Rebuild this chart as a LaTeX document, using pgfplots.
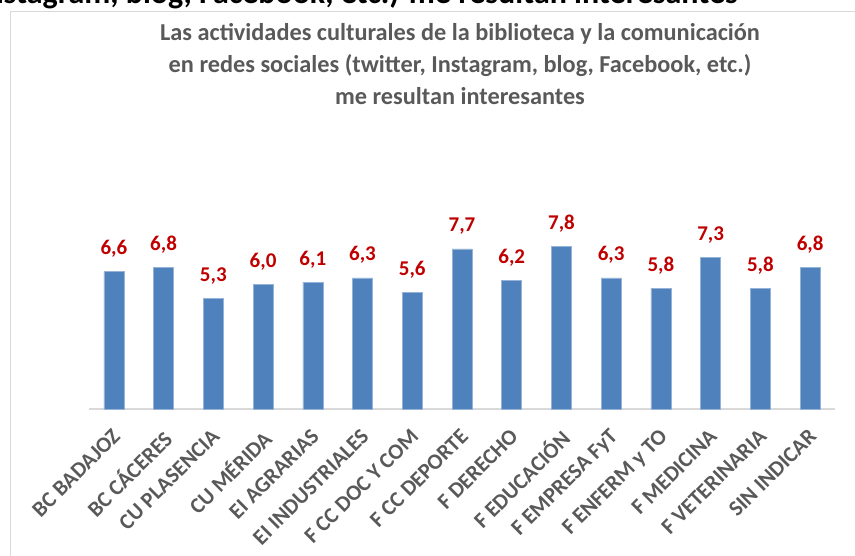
\documentclass[border=0pt]{standalone}
\usepackage{pgfplots}
\pgfplotsset{compat=1.18}
\usepackage{fontspec}
\setmainfont{Carlito}
\definecolor{barblue}{HTML}{4F81BD}
\definecolor{valred}{HTML}{C00000}
\definecolor{txtgrey}{HTML}{595959}
\definecolor{framegrey}{HTML}{D9D9D9}

\begin{document}
\begin{tikzpicture}
\useasboundingbox (0pt,0pt) rectangle (855pt,556pt);
% chart frame, cut off at right and bottom like the screenshot
\draw[framegrey, line width=1pt] (10pt,544pt) rectangle (880pt,-30pt);
% cropped heading above the chart
\node[anchor=base east, inner sep=0pt, font=\fontsize{32}{34}\selectfont\bfseries]
  at (738pt,552pt) {Instagram, blog, Facebook, etc.) me resultan interesantes};
% chart title
\node[align=center, text=txtgrey, font=\fontsize{24.3}{32}\selectfont\bfseries]
  at (460pt,492pt) {Las actividades culturales de la biblioteca y la comunicación\\
  en redes sociales (twitter, Instagram, blog, Facebook, etc.)\\
  me resultan interesantes};
\begin{axis}[
    at={(89pt,147pt)}, anchor=south west,
    scale only axis,
    width=746pt, height=208pt,
    xmin=-0.5, xmax=14.5,
    ymin=0, ymax=10,
    ybar, bar width=20pt,
    axis y line=none,
    axis x line=bottom,
    x axis line style={-, draw=framegrey, line width=1.5pt},
    xtick=data,
    major tick length=0pt,
    xticklabels={BC BADAJOZ, BC CÁCERES, CU PLASENCIA, CU MÉRIDA, EI AGRARIAS,
      EI INDUSTRIALES, F CC DOC Y COM, F CC DEPORTE, F DERECHO, F EDUCACIÓN,
      F EMPRESA FyT, F ENFERM y TO, F MEDICINA, F VETERINARIA, SIN INDICAR},
    xticklabel style={rotate=45, anchor=north east, inner sep=0pt,
      xshift=-15pt, yshift=-11pt,
      text=txtgrey, font=\fontsize{22}{22}\selectfont\bfseries},
    nodes near coords,
    nodes near coords style={anchor=base, inner sep=0pt, yshift=17pt,
      text=valred, font=\fontsize{21}{21}\selectfont\bfseries},
    clip=false,
    /pgf/number format/.cd, fixed, fixed zerofill, precision=1, use comma,
      assume math mode=true,
]
\addplot[fill=barblue, draw=barblue!60!white, line width=0.6pt] coordinates {
    (0,6.6) (1,6.8) (2,5.3) (3,6.0) (4,6.1) (5,6.3) (6,5.6) (7,7.7)
    (8,6.2) (9,7.8) (10,6.3) (11,5.8) (12,7.3) (13,5.8) (14,6.8)
};
\end{axis}
\end{tikzpicture}
\end{document}
